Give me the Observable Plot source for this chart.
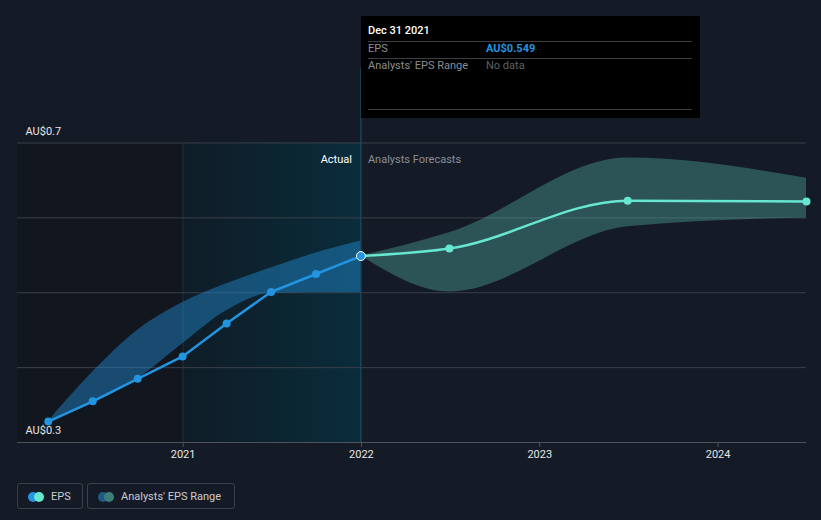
<!DOCTYPE html>
<html>
<head>
<meta charset="utf-8">
<script src="https://cdn.jsdelivr.net/npm/d3@7"></script>
<script src="https://cdn.jsdelivr.net/npm/@observablehq/plot@0.6"></script>
<style>
  html, body { margin: 0; padding: 0; background: #151b26; }
  #wrap { position: relative; width: 821px; height: 520px; overflow: hidden; font-family: Roboto, "Noto Sans", sans-serif; }
  #chart { position: absolute; left: 0; top: 0; }
  .tip { position: absolute; left: 361px; top: 16px; width: 339px; height: 102px; background: #000; }
  .tip .t { position: absolute; left: 7px; font-size: 11px; line-height: 12px; }
  .tip .sep { position: absolute; left: 7px; width: 324px; height: 1px; background: #3c3f44; }
  .legend { position: absolute; top: 483px; height: 26px; border: 1px solid #3a3f4a; border-radius: 3px; box-sizing: border-box; font-size: 11px; color: #c9ccd1; }
  .legend .dot { position: absolute; top: 8px; width: 10px; height: 10px; border-radius: 50%; }
  .legend .lbl { position: absolute; top: 6px; white-space: nowrap; }
</style>
</head>
<body>
<div id="wrap">
  <div id="chart"></div>
  <div class="tip">
    <div class="t" style="top:9px;color:#ffffff;font-weight:500;">Dec 31 2021</div>
    <div class="sep" style="top:25px;"></div>
    <div class="t" style="top:27px;color:#8a8d92;">EPS</div>
    <div class="t" style="top:27px;left:125px;color:#2394df;font-weight:700;">AU$0.549</div>
    <div class="sep" style="top:42px;"></div>
    <div class="t" style="top:44px;color:#8a8d92;">Analysts' EPS Range</div>
    <div class="t" style="top:44px;left:125px;color:#5d6066;">No data</div>
    <div class="sep" style="top:93px;"></div>
  </div>
  <div class="legend" style="left:17px;width:66px;">
    <div class="dot" style="left:10px;background:#2394df;"></div>
    <div class="dot" style="left:16px;background:#67e6d0;"></div>
    <div class="lbl" style="left:33px;">EPS</div>
  </div>
  <div class="legend" style="left:87px;width:148px;">
    <div class="dot" style="left:10px;background:#1d5a86;"></div>
    <div class="dot" style="left:16px;background:#3f7f7a;"></div>
    <div class="lbl" style="left:33px;">Analysts' EPS Range</div>
  </div>
</div>
<script>
const D = s => new Date(s + "T00:00:00Z");

// Actual EPS (quarterly, trailing)
const actualDates = ["2020-03-31","2020-06-30","2020-09-30","2020-12-31","2021-03-31","2021-06-30","2021-09-30","2021-12-31"];
const actualEps   = [0.328, 0.355, 0.385, 0.415, 0.459, 0.501, 0.525, 0.549];
const actualLow   = [0.328, 0.352, 0.385, 0.432, 0.476, 0.499, 0.500, 0.500];
const actualHigh  = [0.328, 0.394, 0.450, 0.487, 0.512, 0.533, 0.553, 0.569];

// Analysts forecasts
const forecastDates = ["2021-12-31","2022-06-30","2023-06-30","2024-06-30"];
const forecastEps   = [0.549, 0.559, 0.623, 0.622];
const forecastLow   = [0.549, 0.501, 0.588, 0.600];
const forecastHigh  = [0.549, 0.580, 0.680, 0.653];

// Axes / layout values
const xDomain = ["2020-01-28", "2024-06-30"];
const yDomain = [0.3, 0.7];
const yLabelTicks = [0.3, 0.7];
const gridValues = [0.4, 0.5, 0.6, 0.7];
const xTickYears = ["2021-01-01","2022-01-01","2023-01-01","2024-01-01"];
const pastRange = ["2020-01-28", "2021-01-01"];
const highlightRange = ["2021-01-01", "2021-12-31"];
const hoverDate = "2021-12-31";

const actual = actualDates.map((d, i) => ({date: D(d), eps: actualEps[i], low: actualLow[i], high: actualHigh[i]}));
const forecast = forecastDates.map((d, i) => ({date: D(d), eps: forecastEps[i], low: forecastLow[i], high: forecastHigh[i]}));

const plot = Plot.plot({
  width: 821,
  height: 470,
  marginLeft: 17,
  marginRight: 15,
  marginTop: 142.5,
  marginBottom: 28,
  style: {background: "transparent", color: "#e6e6e6", fontFamily: "Roboto, sans-serif", fontSize: "11px"},
  x: {type: "utc", domain: xDomain.map(D), axis: null},
  y: {domain: yDomain, axis: null},
  marks: [
    Plot.rect([{a: D(pastRange[0]), b: D(pastRange[1])}], {x1: "a", x2: "b", fill: "#12161f"}),
    Plot.rect([{a: D(highlightRange[0]), b: D(highlightRange[1])}], {x1: "a", x2: "b", fill: "url(#hlgrad)"}),
    Plot.ruleX([D(highlightRange[0])], {stroke: "#17323d", strokeWidth: 1}),
    Plot.ruleY(gridValues, {stroke: "#3a3f49", strokeWidth: 1}),
    Plot.ruleY([yDomain[0]], {stroke: "#4d525c", strokeWidth: 1}),
    Plot.axisX(xTickYears.map(D), {tickSize: 5, tickPadding: 3, stroke: "#4d525c", tickFormat: d => String(d.getUTCFullYear()), fill: "#e6e6e6", fontSize: 11}),
    Plot.areaY(actual, {x: "date", y1: "low", y2: "high", fill: "#2394df", fillOpacity: 0.42, curve: "monotone-x"}),
    Plot.areaY(forecast, {x: "date", y1: "low", y2: "high", fill: "#67e6d0", fillOpacity: 0.28, curve: "monotone-x"}),
    Plot.ruleX([D(hoverDate)], {y1: yDomain[0], y2: 0.8, stroke: "#1b5873", strokeWidth: 1}),
    Plot.line(actual, {x: "date", y: "eps", stroke: "#2394df", strokeWidth: 2.5}),
    Plot.line(forecast, {x: "date", y: "eps", stroke: "#67e6d0", strokeWidth: 2.5, curve: "monotone-x"}),
    Plot.dot(actual.slice(0, -1), {x: "date", y: "eps", r: 4, fill: "#2394df"}),
    Plot.dot(forecast.slice(1), {x: "date", y: "eps", r: 4, fill: "#67e6d0"}),
    Plot.dot([actual[actual.length - 1]], {x: "date", y: "eps", r: 4.5, fill: "#2394df", stroke: "#ffffff", strokeWidth: 1}),
    Plot.text(yLabelTicks, {y: d => d, text: d => "AU$" + d, frameAnchor: "left", textAnchor: "start", dx: 8, dy: -12, fill: "#e6e6e6", fontSize: 11}),
    Plot.text(["Actual"], {x: () => D(hoverDate), text: d => d, frameAnchor: "top", textAnchor: "end", dx: -9, dy: 12, fill: "#ffffff", fontSize: 11}),
    Plot.text(["Analysts Forecasts"], {x: () => D(hoverDate), text: d => d, frameAnchor: "top", textAnchor: "start", dx: 7, dy: 12, fill: "#8a8e96", fontSize: 11})
  ]
});

const svgNS = "http://www.w3.org/2000/svg";
const defs = document.createElementNS(svgNS, "defs");
defs.innerHTML = '<linearGradient id="hlgrad" x1="0" x2="1" y1="0" y2="0"><stop offset="0" stop-color="#0f1c26"/><stop offset="1" stop-color="#0a2c3b"/></linearGradient>';
plot.insertBefore(defs, plot.firstChild);
document.getElementById("chart").appendChild(plot);
</script>
</body>
</html>
